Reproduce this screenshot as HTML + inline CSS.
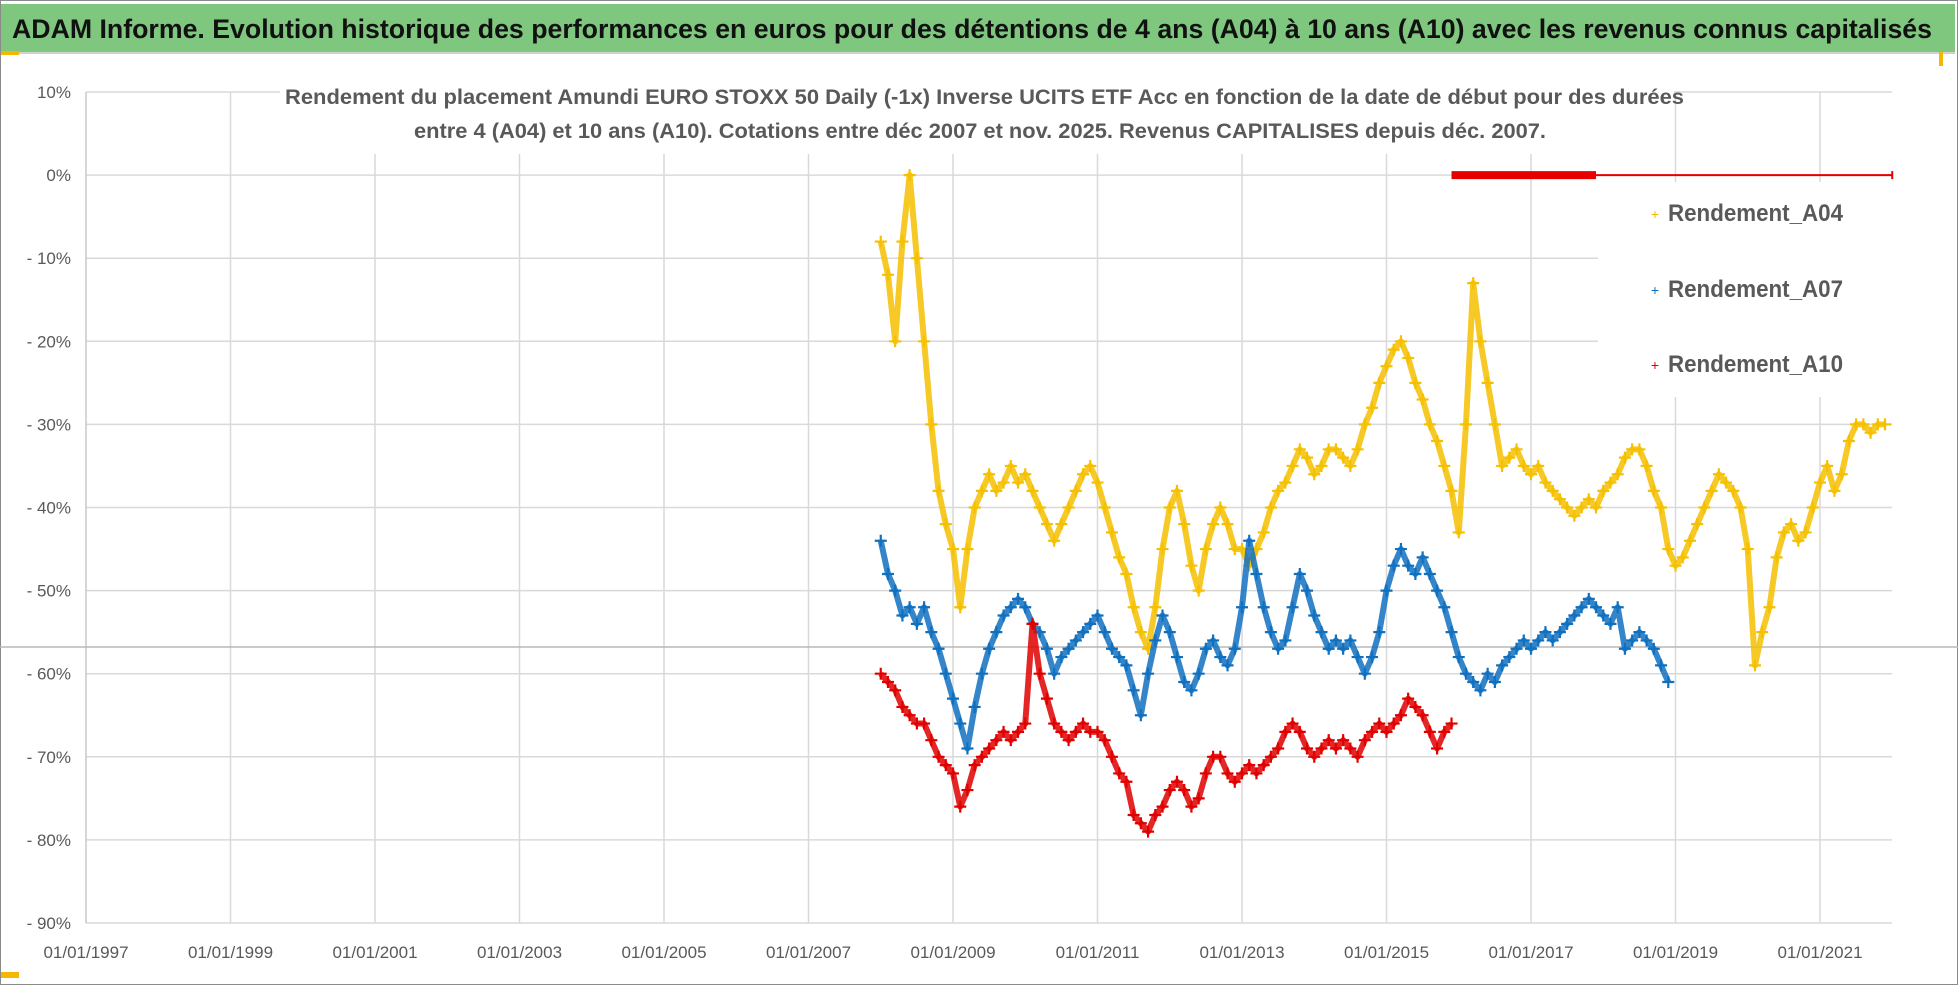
<!DOCTYPE html>
<html><head><meta charset="utf-8"><style>
html,body{margin:0;padding:0;background:#fff;}
svg{display:block;font-family:"Liberation Sans",sans-serif;}
</style></head><body>
<svg id="chart" width="1958" height="985" viewBox="0 0 1958 985" xmlns="http://www.w3.org/2000/svg">
<rect x="0" y="0" width="1958" height="985" fill="#fff"/>
<rect x="0.5" y="0.5" width="1957" height="984" fill="none" stroke="#8a8a8a"/>
<rect x="1" y="4" width="1954" height="48" fill="#7fc77f"/>
<text x="12" y="38" font-size="27" font-weight="bold" fill="#111" textLength="1920" lengthAdjust="spacingAndGlyphs">ADAM Informe. Evolution historique des performances en euros pour des détentions de 4 ans (A04) à 10 ans (A10) avec les revenus connus capitalisés</text>
<line x1="1" y1="53" x2="1955" y2="53" stroke="#d0d0d0" stroke-width="2"/>
<rect x="1" y="51" width="18" height="4" fill="#f5b800"/>
<rect x="1" y="972" width="18" height="6" fill="#f5b800"/>
<rect x="1939" y="52" width="4" height="14" fill="#f5b800"/>
<g id="grid"></g>
<g id="axes"></g>
<line x1="0" y1="647" x2="1958" y2="647" stroke="#b8b8b8" stroke-width="1.5"/>
<g id="series"></g>
<rect x="280" y="78" width="1394" height="76" fill="#fff"/>
<g>
<text x="285" y="104" font-size="21" font-weight="bold" fill="#595959" textLength="1399" lengthAdjust="spacingAndGlyphs">Rendement du placement Amundi EURO STOXX 50 Daily (-1x) Inverse UCITS ETF Acc en fonction de la date de début pour des durées</text>
<text x="414" y="138" font-size="21" font-weight="bold" fill="#595959" textLength="1132" lengthAdjust="spacingAndGlyphs">entre 4 (A04) et 10 ans (A10). Cotations entre déc 2007 et nov. 2025. Revenus CAPITALISES depuis déc. 2007.</text>
</g>
<rect x="1598" y="182" width="294" height="215" fill="#fff"/>
<g>
<g><text x="1655" y="219" font-size="14" fill="#f5b800" text-anchor="middle">+</text><text x="1668" y="221" font-size="24" font-weight="bold" fill="#595959" textLength="175" lengthAdjust="spacingAndGlyphs">Rendement_A04</text></g>
<g><text x="1655" y="295" font-size="14" fill="#1070c0" text-anchor="middle">+</text><text x="1668" y="297" font-size="24" font-weight="bold" fill="#595959" textLength="175" lengthAdjust="spacingAndGlyphs">Rendement_A07</text></g>
<g><text x="1655" y="370" font-size="14" fill="#e00000" text-anchor="middle">+</text><text x="1668" y="372" font-size="24" font-weight="bold" fill="#595959" textLength="175" lengthAdjust="spacingAndGlyphs">Rendement_A10</text></g>
</g>
</svg>
<script>
const xTickYears=[1997,1999,2001,2003,2005,2007,2009,2011,2013,2015,2017,2019,2021];
const yTicks=[10,0,-10,-20,-30,-40,-50,-60,-70,-80,-90];
const yTickLabels=["10%","0%","- 10%","- 20%","- 30%","- 40%","- 50%","- 60%","- 70%","- 80%","- 90%"];
const seriesStep=0.1;
const a04Start=2008.0;
const a04Values=[-8,-12,-20,-8,0,-10,-20,-30,-38,-42,-45,-52,-45,-40,-38,-36,-38,-37,-35,-37,-36,-38,-40,-42,-44,-42,-40,-38,-36,-35,-37,-40,-43,-46,-48,-52,-55,-57,-52,-45,-40,-38,-42,-47,-50,-45,-42,-40,-42,-45,-45,-47,-45,-43,-40,-38,-37,-35,-33,-34,-36,-35,-33,-33,-34,-35,-33,-30,-28,-25,-23,-21,-20,-22,-25,-27,-30,-32,-35,-38,-43,-30,-13,-20,-25,-30,-35,-34,-33,-35,-36,-35,-37,-38,-39,-40,-41,-40,-39,-40,-38,-37,-36,-34,-33,-33,-35,-38,-40,-45,-47,-46,-44,-42,-40,-38,-36,-37,-38,-40,-45,-59,-55,-52,-46,-43,-42,-44,-43,-40,-37,-35,-38,-36,-32,-30,-30,-31,-30,-30];
const a07Start=2008.0;
const a07Values=[-44,-48,-50,-53,-52,-54,-52,-55,-57,-60,-63,-66,-69,-64,-60,-57,-55,-53,-52,-51,-52,-54,-55,-57,-60,-58,-57,-56,-55,-54,-53,-55,-57,-58,-59,-62,-65,-60,-56,-53,-55,-58,-61,-62,-60,-57,-56,-58,-59,-57,-52,-44,-48,-52,-55,-57,-56,-52,-48,-50,-53,-55,-57,-56,-57,-56,-58,-60,-58,-55,-50,-47,-45,-47,-48,-46,-48,-50,-52,-55,-58,-60,-61,-62,-60,-61,-59,-58,-57,-56,-57,-56,-55,-56,-55,-54,-53,-52,-51,-52,-53,-54,-52,-57,-56,-55,-56,-57,-59,-61];
const a10Start=2008.0;
const a10Values=[-60,-61,-62,-64,-65,-66,-66,-68,-70,-71,-72,-76,-74,-71,-70,-69,-68,-67,-68,-67,-66,-54,-60,-63,-66,-67,-68,-67,-66,-67,-67,-68,-70,-72,-73,-77,-78,-79,-77,-76,-74,-73,-74,-76,-75,-72,-70,-70,-72,-73,-72,-71,-72,-71,-70,-69,-67,-66,-67,-69,-70,-69,-68,-69,-68,-69,-70,-68,-67,-66,-67,-66,-65,-63,-64,-65,-67,-69,-67,-66];
const a10ZeroDates=[2015.9,2017.9,2022.0];
const a10ZeroValues=[0,0,0];

const NS="http://www.w3.org/2000/svg";
const X0=86,PX_PER_YEAR=72.25,Y_TOP=92,PX_PER_PCT=8.31;
function xScale(yr){return X0+(yr-1997)*PX_PER_YEAR;}
function yScale(v){return Y_TOP+(10-v)*PX_PER_PCT;}
function mk(tag,attrs,parent){const e=document.createElementNS(NS,tag);for(const k in attrs)e.setAttribute(k,attrs[k]);parent.appendChild(e);return e;}
const grid=document.getElementById('grid'),axes=document.getElementById('axes'),ser=document.getElementById('series');
const xRight=1892;
yTicks.forEach((v,i)=>{
  const y=yScale(v);
  const l=mk('line',{x1:X0,y1:y,x2:xRight,y2:y,stroke:'#d9d9d9','stroke-width':1.5},grid);
  
  
  const t=mk('text',{x:71,y:y+6,'font-size':17,fill:'#595959','text-anchor':'end'},axes);
  t.textContent=yTickLabels[i];
  
  
});
xTickYears.forEach(yr=>{
  const x=xScale(yr);
  const l=mk('line',{x1:x,y1:yScale(10),x2:x,y2:yScale(-90),stroke:yr===1997?'#c8c8c8':'#d9d9d9','stroke-width':1.5},grid);
  
  
  const t=mk('text',{x:x,y:958,'font-size':17,fill:'#595959','text-anchor':'middle'},axes);
  t.textContent='01/01/'+yr;
  
  
});
function drawSeries(start,vals,color,name){
  const g=mk('g',{},ser);
  
  
  const pts=vals.map((v,i)=>[xScale(start+i*seriesStep),yScale(v)]);
  mk('polyline',{points:pts.map(p=>p.join(',')).join(' '),fill:'none',stroke:color,'stroke-width':6,'stroke-linejoin':'round','stroke-opacity':0.85},g);
  pts.forEach(p=>{
    const m=mk('path',{d:`M${p[0]-6},${p[1]}h12M${p[0]},${p[1]-6}v12`,stroke:color,'stroke-width':2.2},g);
    
    
  });
}
drawSeries(a04Start,a04Values,'#f5c000','series-a04');
drawSeries(a07Start,a07Values,'#1070c0','series-a07');
drawSeries(a10Start,a10Values,'#e00000','series-a10');
const zg=mk('g',{},ser);


mk('line',{x1:xScale(a10ZeroDates[0]),y1:yScale(a10ZeroValues[0]),x2:xScale(a10ZeroDates[1]),y2:yScale(a10ZeroValues[1]),stroke:'#e80000','stroke-width':8},zg);
mk('line',{x1:xScale(a10ZeroDates[1]),y1:yScale(a10ZeroValues[1]),x2:xScale(a10ZeroDates[2]),y2:yScale(a10ZeroValues[2]),stroke:'#e80000','stroke-width':2},zg);
mk('path',{d:`M${xScale(a10ZeroDates[2])},${yScale(0)-4}v8`,stroke:'#e80000','stroke-width':2},zg);
</script>
</body></html>
